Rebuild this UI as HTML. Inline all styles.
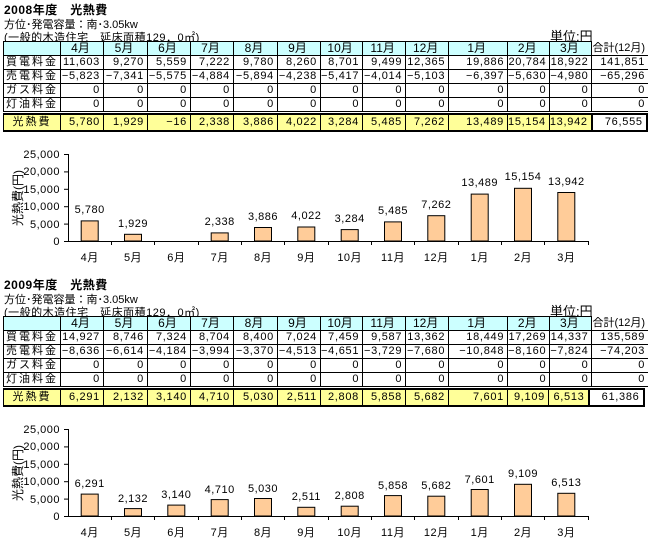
<!DOCTYPE html>
<html><head><meta charset="utf-8">
<style>
body{margin:0;width:651px;height:540px;background:#fff;position:relative;overflow:hidden;font-family:"Liberation Sans","Noto Sans CJK JP",sans-serif;font-size:11px;color:#000}
.sec{position:absolute;left:0;width:651px;height:270px}
.t{position:absolute;white-space:nowrap}
table{position:absolute;border-collapse:collapse;table-layout:fixed;left:3px}
td{border:1px solid #000;padding:0 3px 0 0;text-align:right;height:13px;line-height:13px;overflow:hidden;white-space:nowrap;font-size:11px;letter-spacing:0.7px}
td.l{text-align:center;letter-spacing:2px;padding:0}
tr.h td{background:#ccffff;text-align:center;font-size:12px;letter-spacing:0}
td.s{background:#fff!important;border-top:none;border-right:none;text-align:center;font-size:11px!important}
td.g{border-top:none;border-right:none;border-left:none;border-bottom:1px solid #000}
table.tot td{background:#ffff99;height:15px;line-height:15px;border-top:2px solid #000;border-bottom:2px solid #000}
table.tot td.w{background:#fff;border:2px solid #000;text-align:right}
svg{position:absolute;left:0;top:135px}
</style></head><body>

<div class="sec" style="top:0">
<div class="t" style="left:4px;top:1px;font-weight:bold;font-size:12px;letter-spacing:0.5px">2008年度　光熱費</div>
<div class="t" style="left:4px;top:16px">方位･発電容量：南･3.05kw</div>
<div class="t" style="left:4px;top:29px;text-decoration:underline;letter-spacing:0.5px">(一般的木造住宅　延床面積129．0㎡)</div>
<div class="t" style="left:550px;top:26px;font-size:13px;text-decoration:underline">単位:円</div>
<table style="top:41px">
<colgroup><col style="width:57px"><col style="width:43px"><col style="width:44px"><col style="width:43px"><col style="width:43px"><col style="width:44px"><col style="width:43px"><col style="width:42px"><col style="width:43px"><col style="width:43px"><col style="width:59px"><col style="width:41px"><col style="width:40px"><col style="width:55px"></colgroup>
<tr class="h"><td></td><td>4月</td><td>5月</td><td>6月</td><td>7月</td><td>8月</td><td>9月</td><td>10月</td><td>11月</td><td>12月</td><td>1月</td><td>2月</td><td>3月</td><td class="s">合計(12月)</td></tr>
<tr><td class="l">買電料金</td><td>11,603</td><td>9,270</td><td>5,559</td><td>7,222</td><td>9,780</td><td>8,260</td><td>8,701</td><td>9,499</td><td>12,365</td><td>19,886</td><td>20,784</td><td>18,922</td><td class="g">141,851</td></tr>
<tr><td class="l">売電料金</td><td>−5,823</td><td>−7,341</td><td>−5,575</td><td>−4,884</td><td>−5,894</td><td>−4,238</td><td>−5,417</td><td>−4,014</td><td>−5,103</td><td>−6,397</td><td>−5,630</td><td>−4,980</td><td class="g">−65,296</td></tr>
<tr><td class="l">ガス料金</td><td>0</td><td>0</td><td>0</td><td>0</td><td>0</td><td>0</td><td>0</td><td>0</td><td>0</td><td>0</td><td>0</td><td>0</td><td class="g">0</td></tr>
<tr><td class="l">灯油料金</td><td>0</td><td>0</td><td>0</td><td>0</td><td>0</td><td>0</td><td>0</td><td>0</td><td>0</td><td>0</td><td>0</td><td>0</td><td class="g">0</td></tr>
</table>
<table class="tot" style="top:113px">
<colgroup><col style="width:57px"><col style="width:43px"><col style="width:44px"><col style="width:43px"><col style="width:43px"><col style="width:44px"><col style="width:43px"><col style="width:42px"><col style="width:43px"><col style="width:43px"><col style="width:59px"><col style="width:41px"><col style="width:40px"><col style="width:55px"></colgroup>
<tr><td class="l">光熱費</td><td>5,780</td><td>1,929</td><td>−16</td><td>2,338</td><td>3,886</td><td>4,022</td><td>3,284</td><td>5,485</td><td>7,262</td><td>13,489</td><td>15,154</td><td>13,942</td><td class="w">76,555</td></tr>
</table>
<svg width="651" height="135" font-family="Liberation Sans, Noto Sans CJK JP, sans-serif" font-size="11">
<g stroke="#000" stroke-width="1">
<line x1="68.5" y1="19" x2="68.5" y2="106"/>
<line x1="68" y1="106.5" x2="588" y2="106.5"/>
<line x1="64" y1="19.5" x2="68" y2="19.5"/><line x1="64" y1="36.9" x2="68" y2="36.9"/><line x1="64" y1="54.3" x2="68" y2="54.3"/><line x1="64" y1="71.7" x2="68" y2="71.7"/><line x1="64" y1="89.1" x2="68" y2="89.1"/><line x1="64" y1="106.5" x2="68" y2="106.5"/>
<line x1="111.5" y1="106" x2="111.5" y2="110"/><line x1="154.5" y1="106" x2="154.5" y2="110"/><line x1="198.5" y1="106" x2="198.5" y2="110"/><line x1="241.5" y1="106" x2="241.5" y2="110"/><line x1="284.5" y1="106" x2="284.5" y2="110"/><line x1="328.5" y1="106" x2="328.5" y2="110"/><line x1="371.5" y1="106" x2="371.5" y2="110"/><line x1="414.5" y1="106" x2="414.5" y2="110"/><line x1="458.5" y1="106" x2="458.5" y2="110"/><line x1="501.5" y1="106" x2="501.5" y2="110"/><line x1="544.5" y1="106" x2="544.5" y2="110"/><line x1="588.5" y1="106" x2="588.5" y2="110"/>
</g>
<g text-anchor="end" letter-spacing="0.5"><text x="60" y="23">25,000</text><text x="60" y="40">20,000</text><text x="60" y="58">15,000</text><text x="60" y="75">10,000</text><text x="60" y="93">5,000</text><text x="60" y="110">0</text></g>
<text transform="translate(22,63) rotate(-90)" text-anchor="middle" font-size="12">光熱費(円)</text>
<g fill="#ffcc99" stroke="#000">
<rect x="81.2" y="85.9" width="17" height="20.1"/><rect x="124.5" y="99.3" width="17" height="6.7"/><rect x="211.2" y="97.9" width="17" height="8.1"/><rect x="254.5" y="92.5" width="17" height="13.5"/><rect x="297.8" y="92" width="17" height="14"/><rect x="341.2" y="94.6" width="17" height="11.4"/><rect x="384.5" y="86.9" width="17" height="19.1"/><rect x="427.8" y="80.7" width="17" height="25.3"/><rect x="471.2" y="59.1" width="17" height="46.9"/><rect x="514.5" y="53.3" width="17" height="52.7"/><rect x="557.8" y="57.5" width="17" height="48.5"/>
</g>
<g text-anchor="middle" letter-spacing="0.5">
<text x="89.7" y="78">5,780</text><text x="133" y="92">1,929</text><text x="219.7" y="90">2,338</text><text x="263" y="85">3,886</text><text x="306.3" y="84">4,022</text><text x="349.7" y="87">3,284</text><text x="393" y="79">5,485</text><text x="436.3" y="73">7,262</text><text x="479.7" y="51">13,489</text><text x="523" y="45">15,154</text><text x="566.3" y="50">13,942</text>
<text x="89.7" y="126">4月</text><text x="133" y="126">5月</text><text x="176.3" y="126">6月</text><text x="219.7" y="126">7月</text><text x="263" y="126">8月</text><text x="306.3" y="126">9月</text><text x="349.7" y="126">10月</text><text x="393" y="126">11月</text><text x="436.3" y="126">12月</text><text x="479.7" y="126">1月</text><text x="523" y="126">2月</text><text x="566.3" y="126">3月</text>
</g>
</svg>
</div>

<div class="sec" style="top:275px">
<div class="t" style="left:4px;top:1px;font-weight:bold;font-size:12px;letter-spacing:0.5px">2009年度　光熱費</div>
<div class="t" style="left:4px;top:16px">方位･発電容量：南･3.05kw</div>
<div class="t" style="left:4px;top:29px;text-decoration:underline;letter-spacing:0.5px">(一般的木造住宅　延床面積129．0㎡)</div>
<div class="t" style="left:550px;top:26px;font-size:13px;text-decoration:underline">単位:円</div>
<table style="top:41px">
<colgroup><col style="width:57px"><col style="width:43px"><col style="width:44px"><col style="width:43px"><col style="width:43px"><col style="width:44px"><col style="width:43px"><col style="width:42px"><col style="width:43px"><col style="width:43px"><col style="width:59px"><col style="width:41px"><col style="width:40px"><col style="width:55px"></colgroup>
<tr class="h"><td></td><td>4月</td><td>5月</td><td>6月</td><td>7月</td><td>8月</td><td>9月</td><td>10月</td><td>11月</td><td>12月</td><td>1月</td><td>2月</td><td>3月</td><td class="s">合計(12月)</td></tr>
<tr><td class="l">買電料金</td><td>14,927</td><td>8,746</td><td>7,324</td><td>8,704</td><td>8,400</td><td>7,024</td><td>7,459</td><td>9,587</td><td>13,362</td><td>18,449</td><td>17,269</td><td>14,337</td><td class="g">135,589</td></tr>
<tr><td class="l">売電料金</td><td>−8,636</td><td>−6,614</td><td>−4,184</td><td>−3,994</td><td>−3,370</td><td>−4,513</td><td>−4,651</td><td>−3,729</td><td>−7,680</td><td>−10,848</td><td>−8,160</td><td>−7,824</td><td class="g">−74,203</td></tr>
<tr><td class="l">ガス料金</td><td>0</td><td>0</td><td>0</td><td>0</td><td>0</td><td>0</td><td>0</td><td>0</td><td>0</td><td>0</td><td>0</td><td>0</td><td class="g">0</td></tr>
<tr><td class="l">灯油料金</td><td>0</td><td>0</td><td>0</td><td>0</td><td>0</td><td>0</td><td>0</td><td>0</td><td>0</td><td>0</td><td>0</td><td>0</td><td class="g">0</td></tr>
</table>
<table class="tot" style="top:113px">
<colgroup><col style="width:57px"><col style="width:43px"><col style="width:44px"><col style="width:43px"><col style="width:43px"><col style="width:44px"><col style="width:43px"><col style="width:42px"><col style="width:43px"><col style="width:43px"><col style="width:59px"><col style="width:41px"><col style="width:40px"><col style="width:55px"></colgroup>
<tr><td class="l">光熱費</td><td>6,291</td><td>2,132</td><td>3,140</td><td>4,710</td><td>5,030</td><td>2,511</td><td>2,808</td><td>5,858</td><td>5,682</td><td>7,601</td><td>9,109</td><td>6,513</td><td class="w">61,386</td></tr>
</table>
<svg width="651" height="135" font-family="Liberation Sans, Noto Sans CJK JP, sans-serif" font-size="11">
<g stroke="#000" stroke-width="1">
<line x1="68.5" y1="19" x2="68.5" y2="106"/>
<line x1="68" y1="106.5" x2="588" y2="106.5"/>
<line x1="64" y1="19.5" x2="68" y2="19.5"/><line x1="64" y1="36.9" x2="68" y2="36.9"/><line x1="64" y1="54.3" x2="68" y2="54.3"/><line x1="64" y1="71.7" x2="68" y2="71.7"/><line x1="64" y1="89.1" x2="68" y2="89.1"/><line x1="64" y1="106.5" x2="68" y2="106.5"/>
<line x1="111.5" y1="106" x2="111.5" y2="110"/><line x1="154.5" y1="106" x2="154.5" y2="110"/><line x1="198.5" y1="106" x2="198.5" y2="110"/><line x1="241.5" y1="106" x2="241.5" y2="110"/><line x1="284.5" y1="106" x2="284.5" y2="110"/><line x1="328.5" y1="106" x2="328.5" y2="110"/><line x1="371.5" y1="106" x2="371.5" y2="110"/><line x1="414.5" y1="106" x2="414.5" y2="110"/><line x1="458.5" y1="106" x2="458.5" y2="110"/><line x1="501.5" y1="106" x2="501.5" y2="110"/><line x1="544.5" y1="106" x2="544.5" y2="110"/><line x1="588.5" y1="106" x2="588.5" y2="110"/>
</g>
<g text-anchor="end" letter-spacing="0.5"><text x="60" y="23">25,000</text><text x="60" y="40">20,000</text><text x="60" y="58">15,000</text><text x="60" y="75">10,000</text><text x="60" y="93">5,000</text><text x="60" y="110">0</text></g>
<text transform="translate(22,63) rotate(-90)" text-anchor="middle" font-size="12">光熱費(円)</text>
<g fill="#ffcc99" stroke="#000">
<rect x="81.2" y="84.1" width="17" height="21.9"/><rect x="124.5" y="98.6" width="17" height="7.4"/><rect x="167.8" y="95.1" width="17" height="10.9"/><rect x="211.2" y="89.6" width="17" height="16.4"/><rect x="254.5" y="88.5" width="17" height="17.5"/><rect x="297.8" y="97.3" width="17" height="8.7"/><rect x="341.2" y="96.2" width="17" height="9.8"/><rect x="384.5" y="85.6" width="17" height="20.4"/><rect x="427.8" y="86.2" width="17" height="19.8"/><rect x="471.2" y="79.5" width="17" height="26.5"/><rect x="514.5" y="74.3" width="17" height="31.7"/><rect x="557.8" y="83.3" width="17" height="22.7"/>
</g>
<g text-anchor="middle" letter-spacing="0.5">
<text x="89.7" y="77">6,291</text><text x="133" y="92">2,132</text><text x="176.3" y="88">3,140</text><text x="219.7" y="83">4,710</text><text x="263" y="82">5,030</text><text x="306.3" y="90">2,511</text><text x="349.7" y="89">2,808</text><text x="393" y="79">5,858</text><text x="436.3" y="79">5,682</text><text x="479.7" y="73">7,601</text><text x="523" y="67">9,109</text><text x="566.3" y="76">6,513</text>
<text x="89.7" y="126">4月</text><text x="133" y="126">5月</text><text x="176.3" y="126">6月</text><text x="219.7" y="126">7月</text><text x="263" y="126">8月</text><text x="306.3" y="126">9月</text><text x="349.7" y="126">10月</text><text x="393" y="126">11月</text><text x="436.3" y="126">12月</text><text x="479.7" y="126">1月</text><text x="523" y="126">2月</text><text x="566.3" y="126">3月</text>
</g>
</svg>
</div>
</body></html>
